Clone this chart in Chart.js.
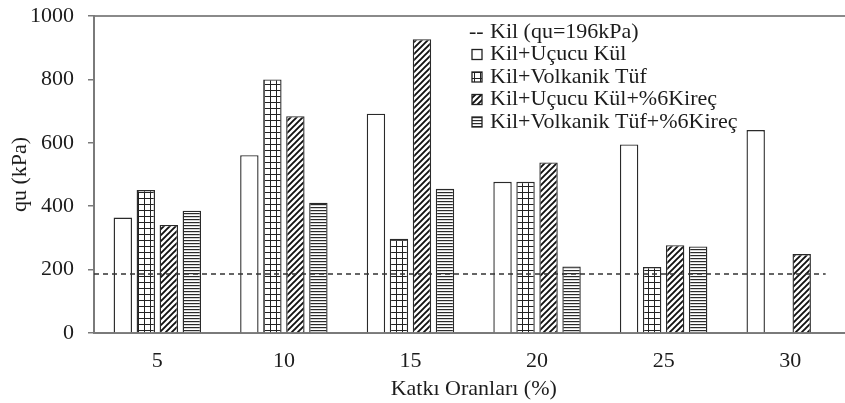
<!DOCTYPE html>
<html>
<head>
<meta charset="utf-8">
<script src="https://cdn.jsdelivr.net/npm/chart.js@4.4.0/dist/chart.umd.min.js"></script>
<style>
  html, body { margin: 0; padding: 0; background: #fff; overflow: hidden; }
  canvas { display: block; }
</style>
</head>
<body>
<canvas id="quChart" width="860" height="403"></canvas>
<script>
// Data
const categories = ['5', '10', '15', '20', '25', '30'];
const seriesNames = ['Kil+Uçucu Kül', 'Kil+Volkanik Tüf', 'Kil+Uçucu Kül+%6Kireç', 'Kil+Volkanik Tüf+%6Kireç'];
const ucucuKul = [364, 561, 692, 477, 595, 640];
const volkanikTuf = [451, 800, 297, 477, 208, null];
const ucucuKulKirec = [341, 684, 927, 538, 277, 249];
const volkanikTufKirec = [386, 411, 455, 210, 273, null];
const kilLabel = 'Kil (qu=196kPa)';
const kilLineX = [2.5, 31.4];   // in "Katkı %" units on the x2 axis
const kilLineY = [186, 186];
const yMin = 0, yMax = 1000, yStep = 200;

const FONT = 'Liberation Serif';
const FS = 22;
const INK = '#1c1c1c';
const AXIS = '#7a7a7a';

function makePattern(size, drawFn) {
    const c = document.createElement('canvas');
    c.width = size; c.height = size;
    const g = c.getContext('2d');
    g.fillStyle = '#fff';
    g.fillRect(0, 0, size, size);
    drawFn(g, size);
    return g.createPattern(c, 'repeat');
}

const ctx = document.getElementById('quChart').getContext('2d');

const gridPattern = makePattern(6, (g, s) => {
    g.strokeStyle = '#222';
    g.lineWidth = 1;
    g.beginPath();
    g.moveTo(0.5, 0); g.lineTo(0.5, s);
    g.moveTo(0, 0.5); g.lineTo(s, 0.5);
    g.stroke();
});

const diagPattern = makePattern(6, (g, s) => {
    g.strokeStyle = '#111';
    g.lineWidth = 1.9;
    g.beginPath();
    g.moveTo(0, s); g.lineTo(s, 0);
    g.moveTo(-1, 1); g.lineTo(1, -1);
    g.moveTo(s - 1, s + 1); g.lineTo(s + 1, s - 1);
    g.stroke();
});

const horizPattern = makePattern(3, (g, s) => {
    g.fillStyle = '#2a2a2a';
    g.fillRect(0, 0, s, 1.2);
});

const fills = ['#ffffff', gridPattern, diagPattern, horizPattern];
const seriesData = [ucucuKul, volkanikTuf, ucucuKulKirec, volkanikTufKirec];

// dashed reference line for plain clay, mapped through the scales
const kilLine = {
    id: 'kilLine',
    afterDatasetsDraw(chart) {
        const c = chart.ctx;
        const xs = chart.scales.x2, ys = chart.scales.y;
        c.save();
        c.strokeStyle = '#333';
        c.lineWidth = 1.5;
        c.setLineDash([5, 4]);
        c.beginPath();
        c.moveTo(xs.getPixelForValue(kilLineX[0]), ys.getPixelForValue(kilLineY[0]));
        c.lineTo(xs.getPixelForValue(kilLineX[1]), ys.getPixelForValue(kilLineY[1]));
        c.stroke();
        c.restore();
    }
};

// legend drawn inside the plot, top right
const legendBox = {
    id: 'legendBox',
    afterDraw(chart) {
        const c = chart.ctx;
        const a = chart.chartArea;
        const x0 = a.left + 375;
        const y0 = a.top + 16;
        const rowH = 22.5;
        c.save();
        c.font = FS + 'px "' + FONT + '"';
        c.fillStyle = INK;
        c.textBaseline = 'middle';
        c.textAlign = 'left';
        c.fillText('--', x0, y0);
        c.fillText(kilLabel, x0 + 21, y0);
        seriesNames.forEach((name, i) => {
            const y = y0 + rowH * (i + 1);
            c.fillStyle = fills[i];
            c.fillRect(x0 + 3, y - 5, 10, 10);
            c.strokeStyle = '#222';
            c.lineWidth = 1.3;
            c.strokeRect(x0 + 3, y - 5, 10, 10);
            c.fillStyle = INK;
            c.fillText(name, x0 + 21, y);
        });
        c.restore();
    }
};

new Chart(ctx, {
    type: 'bar',
    data: {
        labels: categories,
        datasets: seriesData.map((vals, i) => ({
            label: seriesNames[i],
            data: vals,
            xAxisID: 'x',
            backgroundColor: fills[i],
            borderColor: '#2a2a2a',
            borderWidth: 1.4,
            categoryPercentage: 0.727,
            barPercentage: 0.8
        }))
    },
    options: {
        responsive: false,
        animation: false,
        layout: { padding: { top: 16, right: 6.5, left: 0, bottom: 0 } },
        plugins: {
            legend: { display: false },
            tooltip: { enabled: false }
        },
        scales: {
            x: {
                type: 'category',
                position: 'bottom',
                afterFit: s => { s.height = 70; },
                grid: { display: true, drawOnChartArea: false, drawTicks: false },
                border: { display: true, color: AXIS, width: 2 },
                ticks: { color: INK, padding: 15, font: { family: FONT, size: FS } },
                title: {
                    display: true,
                    text: 'Katkı Oranları (%)',
                    color: INK,
                    font: { family: FONT, size: FS },
                    padding: { top: 0, bottom: 1 }
                }
            },
            x2: {
                type: 'linear',
                position: 'top',
                offset: false,
                min: 2.5,
                max: 32.5,
                afterFit: s => { s.height = 0; s.paddingLeft = 0; s.paddingRight = 0; },
                ticks: { display: false },
                grid: { display: true, offset: false, drawOnChartArea: false, drawTicks: false },
                border: { display: true, color: '#8a8a8a', width: 2 }
            },
            y: {
                min: yMin,
                max: yMax,
                afterFit: s => { s.width = 94; s.paddingTop = 0; s.paddingBottom = 0; },
                ticks: {
                    stepSize: yStep,
                    color: INK,
                    padding: 14,
                    font: { family: FONT, size: FS },
                    callback: v => String(v)
                },
                grid: { display: true, drawOnChartArea: false, drawTicks: true, tickLength: 6, color: AXIS, lineWidth: 1.5 },
                border: { display: true, color: AXIS, width: 2 },
                title: {
                    display: true,
                    text: 'qu (kPa)',
                    color: INK,
                    font: { family: FONT, size: FS },
                    padding: { top: 7, bottom: 0 }
                }
            }
        }
    },
    plugins: [kilLine, legendBox]
});
</script>
</body>
</html>
